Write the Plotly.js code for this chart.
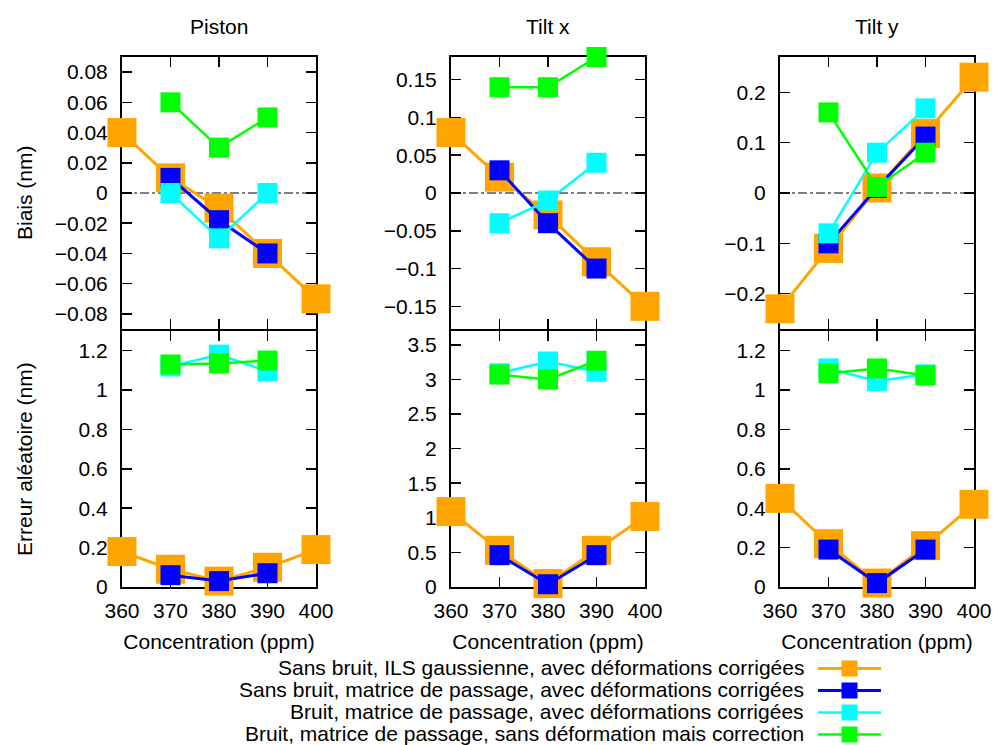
<!DOCTYPE html>
<html>
<head>
<meta charset="utf-8">
<script src="https://cdn.plot.ly/plotly-3.0.1.min.js"></script>
<style>html,body{margin:0;padding:0;background:#fff;}</style>
</head>
<body>
<div id="chart" style="width:997px;height:745px;"></div>
<script>
// ---------------- DATA ----------------
const concentration = [360, 370, 380, 390, 400];
const panelTitles = ["Piston", "Tilt x", "Tilt y"];
const rowTitles = ["Biais (nm)", "Erreur aléatoire (nm)"];
const xTitle = "Concentration (ppm)";
const seriesNames = [
  "Sans bruit, ILS gaussienne, avec déformations corrigées",
  "Sans bruit, matrice de passage, avec déformations corrigées",
  "Bruit, matrice de passage, avec déformations corrigées",
  "Bruit, matrice de passage, sans déformation mais correction"
];

// Bias (nm)
const pistonBiasGauss  = [0.04, 0.01, -0.01, -0.04, -0.07];
const pistonBiasMatrix = [null, 0.01, -0.018, -0.04, null];
const pistonBiasNoise  = [null, 0.0, -0.03, 0.0, null];
const pistonBiasNoDef  = [null, 0.06, 0.03, 0.05, null];

const tiltxBiasGauss  = [0.08, 0.021, -0.029, -0.091, -0.15];
const tiltxBiasMatrix = [null, 0.03, -0.04, -0.10, null];
const tiltxBiasNoise  = [null, -0.04, -0.01, 0.04, null];
const tiltxBiasNoDef  = [null, 0.14, 0.14, 0.18, null];

const tiltyBiasGauss  = [-0.23, -0.11, 0.01, 0.118, 0.23];
const tiltyBiasMatrix = [null, -0.10, 0.01, 0.112, null];
const tiltyBiasNoise  = [null, -0.08, 0.08, 0.168, null];
const tiltyBiasNoDef  = [null, 0.16, 0.012, 0.08, null];

// Random error (nm)
const pistonErrGauss  = [0.18, 0.09, 0.03, 0.10, 0.19];
const pistonErrMatrix = [null, 0.06, 0.03, 0.07, null];
const pistonErrNoise  = [null, 1.12, 1.18, 1.095, null];
const pistonErrNoDef  = [null, 1.13, 1.135, 1.15, null];

const tiltxErrGauss  = [1.09, 0.53, 0.05, 0.53, 1.02];
const tiltxErrMatrix = [null, 0.46, 0.04, 0.46, null];
const tiltxErrNoise  = [null, 3.09, 3.26, 3.11, null];
const tiltxErrNoDef  = [null, 3.07, 3.00, 3.27, null];

const tiltyErrGauss  = [0.45, 0.22, 0.02, 0.21, 0.42];
const tiltyErrMatrix = [null, 0.19, 0.02, 0.19, null];
const tiltyErrNoise  = [null, 1.11, 1.045, 1.08, null];
const tiltyErrNoDef  = [null, 1.085, 1.11, 1.074, null];

// Axis ranges / ticks
const biasRanges = [[-0.09, 0.09], [-0.18, 0.18], [-0.27, 0.27]];
const biasDticks = [0.02, 0.05, 0.1];
const errRanges  = [[0, 1.3], [0, 3.7], [0, 1.3]];
const errDticks  = [0.2, 0.5, 0.2];

// ---------------- STYLE ----------------
const W = 997, H = 745;
const FONT = "Liberation Sans, Arial, Helvetica, sans-serif";
const colors = ["#ffa500", "#0000ff", "#00ffff", "#00ff00"];
const markerSizes = [29, 20, 20, 20];
const lineWidths = [3, 3, 2.5, 2.5];
const colPx = [[122, 316], [451, 645], [780, 974]];
const rowPx = [[57, 329], [331, 587]];

const px2x = p => p / W;
const px2y = p => 1 - p / H;

const panels = [
  [pistonBiasGauss, pistonBiasMatrix, pistonBiasNoise, pistonBiasNoDef],
  [tiltxBiasGauss, tiltxBiasMatrix, tiltxBiasNoise, tiltxBiasNoDef],
  [tiltyBiasGauss, tiltyBiasMatrix, tiltyBiasNoise, tiltyBiasNoDef],
  [pistonErrGauss, pistonErrMatrix, pistonErrNoise, pistonErrNoDef],
  [tiltxErrGauss, tiltxErrMatrix, tiltxErrNoise, tiltxErrNoDef],
  [tiltyErrGauss, tiltyErrMatrix, tiltyErrNoise, tiltyErrNoDef]
];

const traces = [];
const layout = {
  width: W, height: H,
  margin: {l: 0, r: 0, t: 0, b: 0, autoexpand: false},
  paper_bgcolor: "#ffffff",
  plot_bgcolor: "rgba(0,0,0,0)",
  font: {family: FONT, size: 21, color: "#000"},
  showlegend: true,
  hovermode: false,
  legend: {
    x: px2x(813), y: px2y(654), xanchor: "left", yanchor: "top",
    bgcolor: "rgba(0,0,0,0)", borderwidth: 0,
    font: {family: FONT, size: 1, color: "rgba(0,0,0,0)"},
    itemwidth: 63, itemsizing: "trace", traceorder: "grouped",
    tracegroupgap: 3
  },
  shapes: [],
  annotations: []
};

for (let p = 0; p < 6; p++) {
  const row = p < 3 ? 0 : 1;
  const col = p % 3;
  const idx = p + 1;
  const xa = "x" + (idx === 1 ? "" : idx);
  const ya = "y" + (idx === 1 ? "" : idx);
  const xKey = "xaxis" + (idx === 1 ? "" : idx);
  const yKey = "yaxis" + (idx === 1 ? "" : idx);

  panels[p].forEach((vals, s) => {
    traces.push({
      type: "scatter", mode: "lines+markers",
      x: concentration, y: vals,
      xaxis: xa, yaxis: ya,
      name: seriesNames[s], legendgroup: "s" + s,
      showlegend: p === 0,
      cliponaxis: false,
      connectgaps: false,
      line: {color: colors[s], width: lineWidths[s]},
      marker: {symbol: "square", size: markerSizes[s], color: colors[s], line: {width: 0}}
    });
  });

  const axCommon = {
    showline: true, linecolor: "#000", linewidth: 2, mirror: "ticks",
    ticks: "inside", ticklen: 10, tickwidth: 1.5, tickcolor: "#000",
    showgrid: false, zeroline: false, layer: "below traces",
    tickfont: {family: FONT, size: 21, color: "#000"}, fixedrange: true,
    automargin: false
  };

  layout[xKey] = Object.assign({}, axCommon, {
    domain: [px2x(colPx[col][0]), px2x(colPx[col][1])],
    anchor: ya, range: [360, 400], tick0: 360, dtick: 10, tickangle: 0,
    showticklabels: row === 1, ticklabelstandoff: 4
  });
  if (row === 1) {
    layout[xKey].title = {text: xTitle, font: {family: FONT, size: 21}, standoff: 13};
  }
  const yr = row === 0 ? biasRanges[col] : errRanges[col];
  const yd = row === 0 ? biasDticks[col] : errDticks[col];
  layout[yKey] = Object.assign({}, axCommon, {
    domain: [px2y(rowPx[row][1]), px2y(rowPx[row][0])],
    anchor: xa, range: yr, tick0: 0, dtick: yd,
    ticklabelstandoff: 8
  });

  if (row === 0) {
    layout.shapes.push({
      type: "line", layer: "below", xref: xa + " domain", yref: ya,
      x0: 0, x1: 1, y0: 0, y1: 0,
      line: {color: "#000", width: 1.2, dash: "dashdot"}
    });
    layout.annotations.push({
      text: panelTitles[col], showarrow: false,
      xref: "paper", yref: "paper",
      x: px2x((colPx[col][0] + colPx[col][1]) / 2), y: px2y(26),
      xanchor: "center", yanchor: "middle",
      font: {family: FONT, size: 21, color: "#000"}
    });
  }
  if (col === 0) {
    layout.annotations.push({
      text: rowTitles[row], showarrow: false, textangle: -90,
      xref: "paper", yref: "paper",
      x: px2x(24), y: px2y((rowPx[row][0] + rowPx[row][1]) / 2),
      xanchor: "center", yanchor: "middle",
      font: {family: FONT, size: 21, color: "#000"}
    });
  }
}

// Legend labels (right-aligned, to the left of the legend symbols)
const legendRowPx = [667, 689, 711, 733];
seriesNames.forEach((name, s) => {
  layout.annotations.push({
    text: name, showarrow: false, xref: "paper", yref: "paper",
    x: px2x(806), y: px2y(legendRowPx[s]), xanchor: "right", yanchor: "middle",
    font: {family: FONT, size: 21, color: "#000"}
  });
});

Plotly.newPlot("chart", traces, layout, {displayModeBar: false, staticPlot: true});
</script>
</body>
</html>
